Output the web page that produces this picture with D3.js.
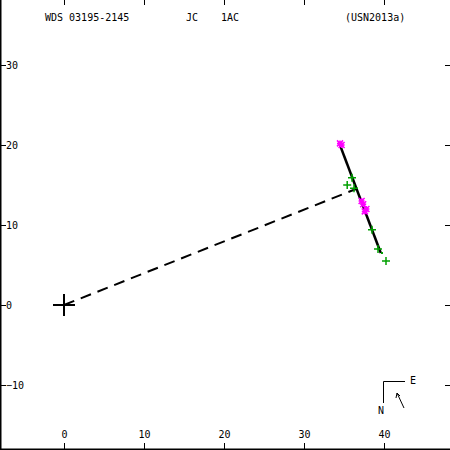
<!DOCTYPE html>
<html>
<head>
<meta charset="utf-8">
<script src="https://cdn.jsdelivr.net/npm/d3@7"></script>
<style>
  body { margin: 0; background: #fff; }
  svg { display: block; }
  text { font-family: "DejaVu Sans Mono", monospace; font-size: 10px; fill: #000; }
</style>
</head>
<body>
<svg id="chart" width="450" height="450"></svg>
<script>
const titleParts = [
  { text: "WDS 03195-2145", x: 45 },
  { text: "JC", x: 186 },
  { text: "1AC", x: 221 },
  { text: "(USN2013a)", x: 345 }
];
const xTicks = [0, 10, 20, 30, 40];
const yTicks = [-10, 0, 10, 20, 30];

// observations (x, y in arcsec)
const greenObs = [[36.0, 15.9], [35.4, 15.0], [36.25, 14.6], [38.5, 9.4], [39.25, 7.0], [40.25, 5.5]];
const greenDots = [[39.75, 6.5]];
const pinkObs = [[34.5, 20.2], [34.7, 20.0], [37.2, 13.0], [37.4, 12.6], [37.8, 12.0], [37.6, 11.7]];
// orbit / motion line and connector to primary
const motionLine = [[34.4, 20.25], [39.6, 6.5]];
const connector = [[0, 0], [36.5, 14.5]];

const W = 450, H = 450;
const x = d3.scaleLinear().domain([0, 40]).range([64, 384]);
const y = d3.scaleLinear().domain([0, 30]).range([305, 65]);

const svg = d3.select("#chart");

// frame: left and bottom lines
svg.append("line").attr("x1", 0.5).attr("x2", 0.5).attr("y1", 0).attr("y2", H).attr("stroke", "#000").attr("stroke-width", 2);
svg.append("line").attr("x1", 0).attr("x2", W).attr("y1", H - 0.5).attr("y2", H - 0.5).attr("stroke", "#000").attr("stroke-width", 2);

// x ticks top & bottom
const xt = svg.append("g").attr("stroke", "#000");
xTicks.forEach(v => {
  xt.append("line").attr("x1", x(v) + 0.5).attr("x2", x(v) + 0.5).attr("y1", 0).attr("y2", 5);
  xt.append("line").attr("x1", x(v) + 0.5).attr("x2", x(v) + 0.5).attr("y1", H - 7).attr("y2", H);
  svg.append("text").attr("x", x(v) + 0.5).attr("y", 438).attr("text-anchor", "middle").text(v);
});
// y ticks left & right
yTicks.forEach(v => {
  xt.append("line").attr("x1", 0).attr("x2", 6).attr("y1", y(v) + 0.5).attr("y2", y(v) + 0.5);
  xt.append("line").attr("x1", W - 5).attr("x2", W).attr("y1", y(v) + 0.5).attr("y2", y(v) + 0.5);
  svg.append("text").attr("x", 6).attr("y", y(v) + 4).text(v < 0 ? "\u2212" + Math.abs(v) : v);
});

// title
svg.selectAll("text.title").data(titleParts).join("text")
  .attr("class", "title").attr("x", d => d.x).attr("y", 21).text(d => d.text);

const line = d3.line().x(d => x(d[0])).y(d => y(d[1]));

// dashed connector
svg.append("path").attr("d", line(connector)).attr("fill", "none")
  .attr("stroke", "#000").attr("stroke-width", 2).attr("stroke-dasharray", "11,7");

// motion line
svg.append("path").attr("d", line(motionLine)).attr("fill", "none")
  .attr("stroke", "#000").attr("stroke-width", 2.5);

// primary star cross
const cs = 11;
svg.append("path")
  .attr("d", `M${x(0) - cs},${y(0)}H${x(0) + cs}M${x(0)},${y(0) - cs}V${y(0) + cs}`)
  .attr("stroke", "#000").attr("stroke-width", 2);

// green plus markers
svg.append("g").selectAll("path").data(greenObs).join("path")
  .attr("d", d => `M${x(d[0]) - 4},${y(d[1])}H${x(d[0]) + 4}M${x(d[0])},${y(d[1]) - 4}V${y(d[1]) + 4}`)
  .attr("stroke", "#00a000").attr("stroke-width", 1.5);
svg.append("g").selectAll("rect").data(greenDots).join("rect")
  .attr("x", d => x(d[0]) - 1).attr("y", d => y(d[1]) - 1).attr("width", 2).attr("height", 2)
  .attr("fill", "#00a000");

// pink asterisk markers
svg.append("g").selectAll("path").data(pinkObs).join("path")
  .attr("d", d => {
    const cx = x(d[0]), cy = y(d[1]), r = 3;
    return `M${cx - r},${cy}H${cx + r}M${cx},${cy - r}V${cy + r}M${cx - r},${cy - r}L${cx + r},${cy + r}M${cx - r},${cy + r}L${cx + r},${cy - r}`;
  })
  .attr("stroke", "#ff00ff").attr("stroke-width", 1.5);

// compass
const cp = svg.append("g").attr("stroke", "#000").attr("fill", "none");
cp.append("path").attr("d", "M383.5,403V381.5H405");
svg.append("text").attr("x", 410).attr("y", 384).text("E");
svg.append("text").attr("x", 378).attr("y", 414).text("N");
cp.append("path").attr("d", "M404,408L397,393");
cp.append("path").attr("d", "M396,398L397,393L400,396");
</script>
</body>
</html>
